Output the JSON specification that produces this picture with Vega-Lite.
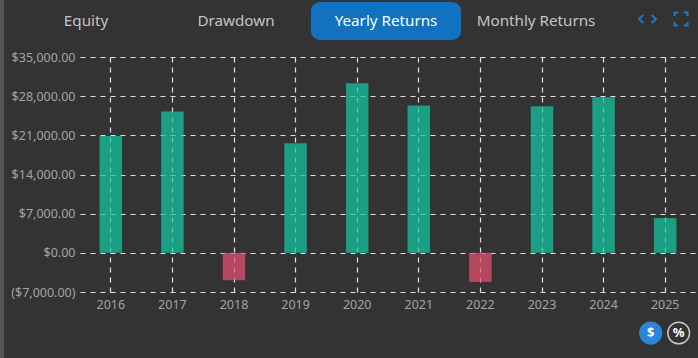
{
"$schema":"https://vega.github.io/schema/vega-lite/v6.json",
"width":618,"height":235,
"autosize":"none",
"padding":{"left":80,"top":57,"right":0,"bottom":66},
"background":"#333333",
"config":{"view":{"stroke":null},"font":"Noto Sans"},
"resolve":{"scale":{"x":"independent","y":"independent"},"axis":{"x":"independent","y":"independent"}},
"layer":[
{"data":{"values":[{"part":"edge"}]},
 "mark":{"type":"bar","color":"#555555"},
 "encoding":{
  "x":{"field":"part","type":"nominal","axis":null,"scale":{"type":"band","domain":["edge"],"range":[-80,-76],"padding":0}},
  "y":{"field":"part","type":"nominal","axis":null,"scale":{"type":"band","domain":["edge"],"range":[-57,303],"padding":0}}}},
{"data":{"values":[
 {"year":"2016","returns":20870},{"year":"2017","returns":25250},{"year":"2018","returns":-4900},{"year":"2019","returns":19600},{"year":"2020","returns":30300},
 {"year":"2021","returns":26350},{"year":"2022","returns":-5200},{"year":"2023","returns":26200},{"year":"2024","returns":27800},{"year":"2025","returns":6200}]},
 "mark":{"type":"bar","size":22.5,"opacity":0.72},
 "encoding":{
  "x":{"field":"year","type":"ordinal","title":null,"scale":{"type":"band","range":[0,616],"padding":0},
   "axis":{"grid":true,"gridColor":"#e0e0e0","gridDash":[5,5],"gridWidth":1.2,"domain":false,"ticks":false,"labelAngle":0,"labelColor":"#a3a3a3","labelFontSize":12.5,"labelPadding":6}},
  "y":{"field":"returns","type":"quantitative","title":null,"scale":{"domain":[-7000,35000],"nice":false},
   "axis":{"values":[-7000,0,7000,14000,21000,28000,35000],"grid":true,"gridColor":"#e0e0e0","gridDash":[5,5],"gridWidth":1.2,"domain":false,"ticks":false,"labelColor":"#a3a3a3","labelFontSize":12.5,"labelPadding":5,
    "labelExpr":"datum.value<0 ? '($'+format(-datum.value,',.2f')+')' : '$'+format(datum.value,',.2f')"}},
  "color":{"condition":{"test":"datum.returns<0","value":"#e65172"},"value":"#12c8a4"}}},
{"data":{"values":[{"tab":"Yearly Returns"}]},
 "mark":{"type":"bar","color":"#1272c2","cornerRadius":9},
 "encoding":{
  "x":{"field":"tab","type":"nominal","axis":null,"scale":{"type":"band","domain":["Equity","Drawdown","Yearly Returns","Monthly Returns"],"range":[-69,531],"padding":0}},
  "y":{"field":"tab","type":"nominal","axis":null,"scale":{"type":"band","domain":["Yearly Returns"],"range":[-55,-17],"padding":0}}}},
{"data":{"values":[{"tab":"Equity"},{"tab":"Drawdown"},{"tab":"Yearly Returns"},{"tab":"Monthly Returns"}]},
 "mark":{"type":"text","fontSize":15.2},
 "encoding":{
  "x":{"field":"tab","type":"nominal","axis":null,"scale":{"type":"band","domain":["Equity","Drawdown","Yearly Returns","Monthly Returns"],"range":[-69,531],"padding":0}},
  "y":{"datum":"row","type":"nominal","axis":null,"scale":{"type":"band","domain":["row"],"range":[-55,-17],"padding":0}},
  "text":{"field":"tab"},
  "color":{"condition":{"test":"datum.tab=='Yearly Returns'","value":"#ffffff"},"value":"#c4c4c4"}}},
{"data":{"values":[{"icon":"code"},{"icon":"full"}]},
 "mark":{"type":"point","filled":false,"strokeWidth":2,"color":"#1f78c8","opacity":1},
 "encoding":{
  "x":{"field":"icon","type":"nominal","axis":null,"scale":{"type":"point","domain":["code","full"],"range":[567.5,601],"padding":0}},
  "y":{"datum":"row","type":"nominal","axis":null,"scale":{"type":"point","domain":["row"],"range":[-38,-38],"padding":0}},
  "shape":{"field":"icon","type":"nominal","legend":null,"scale":{"domain":["code","full"],"range":["M-0.5,-0.47L-1,0L-0.5,0.47M0.5,-0.47L1,0L0.5,0.47","M-1,-0.45V-1H-0.45M0.45,-1H1V-0.45M1,0.45V1H0.45M-0.45,1H-1V0.45"]}},
  "size":{"field":"icon","type":"nominal","legend":null,"scale":{"type":"ordinal","domain":["code","full"],"range":[289,169]}}}},
{"data":{"values":[{"unit":"$"},{"unit":"%"}]},
 "mark":{"type":"point","filled":true,"opacity":1,"size":470,"strokeWidth":1.5},
 "encoding":{
  "x":{"field":"unit","type":"nominal","axis":null,"scale":{"type":"point","domain":["$","%"],"range":[570.7,598.7],"padding":0}},
  "y":{"datum":"row","type":"nominal","axis":null,"scale":{"type":"point","domain":["row"],"range":[276,276],"padding":0}},
  "fill":{"condition":{"test":"datum.unit=='$'","value":"#2a86d8"},"value":"#333333"},
  "stroke":{"condition":{"test":"datum.unit=='$'","value":"#2a86d8"},"value":"#c8c8c8"}}},
{"data":{"values":[{"unit":"$"},{"unit":"%"}]},
 "mark":{"type":"text","fontSize":13,"fontWeight":"bold","color":"#ffffff"},
 "encoding":{
  "x":{"field":"unit","type":"nominal","axis":null,"scale":{"type":"point","domain":["$","%"],"range":[570.7,598.7],"padding":0}},
  "y":{"datum":"row","type":"nominal","axis":null,"scale":{"type":"point","domain":["row"],"range":[276,276],"padding":0}},
  "text":{"field":"unit"}}}
]}
